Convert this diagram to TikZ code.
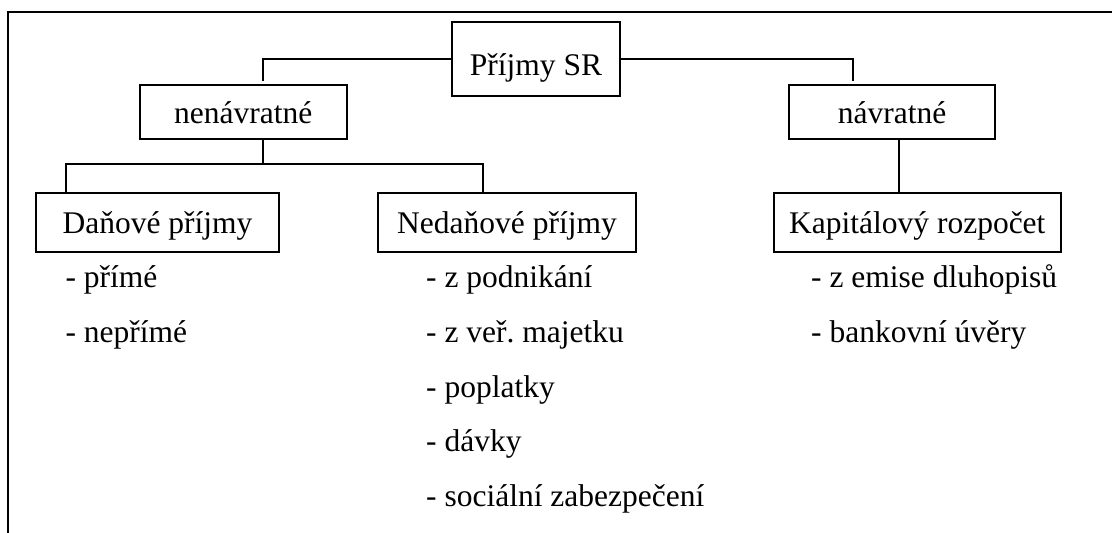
\documentclass[tikz,border=0pt]{standalone}
\usepackage{fontspec}
\setmainfont{Liberation Serif}
\frenchspacing
\begin{document}
\begin{tikzpicture}[x=1pt,y=-1pt,
  every node/.style={font=\fontsize{31.5}{38}\selectfont, inner sep=0pt},
  ln/.style={line width=1.9pt},
  boxA/.style={draw, line width=1.9pt, anchor=base, text height=53.8pt, text depth=20.2pt},
  boxB/.style={draw, line width=1.9pt, anchor=base, text height=38pt, text depth=16pt},
  boxC/.style={draw, line width=1.9pt, anchor=base, text height=40pt, text depth=18.7pt},
  item/.style={anchor=base west}]
\useasboundingbox (0,0) rectangle (1112,533);
% frame
\coordinate (fl) at (8.3,533);
\coordinate (fc) at (8.3,12.3);
\coordinate (fr) at (1112,12.3);
\draw[ln] (fl) -- (fc) -- (fr);
% boxes
\node[boxA, minimum width=168pt] (top) at (536,75.5) {Příjmy SR};
\node[boxB, minimum width=206.7pt] (nen) at (243.3,123) {nenávratné};
\node[boxB, minimum width=206pt] (nav) at (892,123) {návratné};
\node[boxC, minimum width=243pt] (dan) at (157.5,233) {Daňové příjmy};
\node[boxC, minimum width=258pt] (ned) at (507,233) {Nedaňové příjmy};
\node[boxC, minimum width=287.5pt] (kap) at (917.3,233) {Kapitálový rozpočet};
% connectors
\coordinate (c1) at (263.3,81);
\coordinate (c2) at (852.7,81);
\draw[ln] (top.west) -| (c1);
\draw[ln] (top.east) -| (c2);
\coordinate (s) at (263.3,164.3);
\coordinate (sl) at (65.7,164.3);
\coordinate (sr) at (483.3,164.3);
\draw[ln] (s |- nen.south) -- (s);
\draw[ln] (sl |- dan.north) -- (sl) -- (sr) -- (sr |- ned.north);
\coordinate (k) at (899.2,170);
\draw[ln] (k |- nav.south) -- (k) -- (k |- kap.north);
% lists
\node[item] (d1) at (65.4,287.5) {- přímé};
\node[item] (d2) at (65.4,342.3) {- nepřímé};
\node[item] (n1) at (426,287.5) {- z podnikání};
\node[item] (n2) at (426,342.3) {- z veř. majetku};
\node[item] (n3) at (426,397.1) {- poplatky};
\node[item] (n4) at (426,451.9) {- dávky};
\node[item] (n5) at (426,506.7) {- sociální zabezpečení};
\node[item] (k1) at (811,287.5) {- z emise dluhopisů};
\node[item] (k2) at (811,342.3) {- bankovní úvěry};
\end{tikzpicture}
\end{document}
